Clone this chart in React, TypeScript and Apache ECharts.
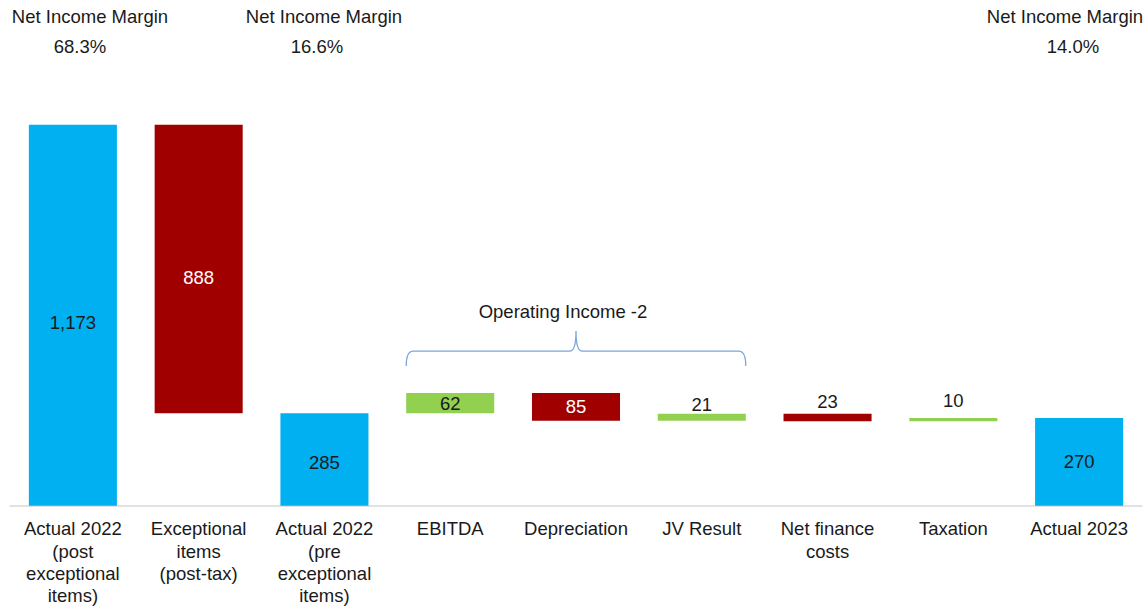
import React, { useEffect, useRef } from "react";
import * as echarts from "echarts";

const categories = [
  "Actual 2022\n(post\nexceptional\nitems)",
  "Exceptional\nitems\n(post-tax)",
  "Actual 2022\n(pre\nexceptional\nitems)",
  "EBITDA",
  "Depreciation",
  "JV Result",
  "Net finance\ncosts",
  "Taxation",
  "Actual 2023",
];
// signed change for deltas, total for totals
const values = [1173, -888, 285, 62, -85, 21, -23, 10, 270];
const kinds = ["total", "delta", "total", "delta", "delta", "delta", "delta", "delta", "total"];
const labelTexts = ["1,173", "888", "285", "62", "85", "21", "23", "10", "270"];
const labelOutside = [false, false, false, false, false, true, true, true, false];
const marginTitles = ["Net Income Margin", "Net Income Margin", "Net Income Margin"];
const marginValues = ["68.3%", "16.6%", "14.0%"];
const bracketText = "Operating Income -2";

const BLUE = "#00b0f0";
const RED = "#a00000";
const GREEN = "#92d050";
const FONT = "Liberation Sans";
const FS = 18.5;

export default function App() {
  const ref = useRef<HTMLDivElement>(null);
  useEffect(() => {
    if (!ref.current) return;
    const chart = echarts.init(ref.current, undefined, { renderer: "svg" });

    const bases: number[] = [];
    const heights: number[] = [];
    let cum = 0;
    values.forEach((v, i) => {
      if (kinds[i] === "total") {
        bases.push(0);
        heights.push(v);
        cum = v;
      } else {
        const next = cum + v;
        bases.push(Math.min(cum, next));
        heights.push(Math.abs(v));
        cum = next;
      }
    });

    const labelShift = [7, 9, 3, 0, 0, 3, 0, -5, 0];

    const barData = heights.map((h, i) => {
      const color = kinds[i] === "total" ? BLUE : values[i] < 0 ? RED : GREEN;
      return {
        value: h,
        itemStyle: { color },
        label: {
          show: true,
          formatter: labelTexts[i],
          position: labelOutside[i] ? "top" : "inside",
          offset: [0, labelShift[i]],
          color: color === RED && !labelOutside[i] ? "#ffffff" : "#1a1a1a",
          fontFamily: FONT,
          fontSize: FS,
          distance: 3,
        },
      };
    });

    const txt = (x: number, y: number, t: string) => ({
      type: "text",
      x,
      y,
      style: { text: t, fill: "#1a1a1a", font: `${FS}px ${FONT}`, align: "center", verticalAlign: "middle" },
    });

    chart.setOption({
      animation: false,
      grid: { left: 10, right: 5, top: 116, bottom: 97, containLabel: false },
      xAxis: {
        type: "category",
        data: categories,
        axisLine: { show: true, lineStyle: { color: "#d9d9d9", width: 1.5 } },
        axisTick: { show: false },
        axisLabel: {
          interval: 0,
          color: "#1a1a1a",
          fontFamily: FONT,
          fontSize: FS,
          lineHeight: 22.3,
          margin: 12,
        },
      },
      yAxis: {
        type: "value",
        min: 0,
        max: 1200,
        show: false,
        splitLine: { show: false },
      },
      series: [
        {
          type: "bar",
          stack: "w",
          data: bases,
          itemStyle: { color: "transparent" },
          barWidth: "70%",
          silent: true,
        },
        {
          type: "bar",
          stack: "w",
          data: barData,
          barWidth: "70%",
        },
        {
          type: "custom",
          data: [[3, 5, bases[3] + heights[3]]],
          renderItem: (params: any, api: any) => {
            const bw = api.size([1, 0])[0] * 0.7;
            const xl = api.coord([api.value(0), 0])[0] - bw / 2;
            const xr = api.coord([api.value(1), 0])[0] + bw / 2;
            const yTop = api.coord([0, api.value(2)])[1];
            const yb = yTop - 27;
            const yh = yTop - 42;
            const yp = yTop - 62;
            const xm = (xl + xr) / 2;
            const d = `M${xl} ${yb} Q${xl} ${yh} ${xl + 7} ${yh} L${xm - 6} ${yh} Q${xm} ${yh} ${xm} ${yp} Q${xm} ${yh} ${xm + 6} ${yh} L${xr - 7} ${yh} Q${xr} ${yh} ${xr} ${yb}`;
            return {
              type: "group",
              children: [
                {
                  type: "path",
                  shape: { pathData: d },
                  style: { fill: "none", stroke: "#7aa6dc", lineWidth: 1.3 },
                },
                {
                  type: "text",
                  x: xm - 13,
                  y: yTop - 82,
                  style: {
                    text: bracketText,
                    fill: "#1a1a1a",
                    font: `${FS}px ${FONT}`,
                    align: "center",
                    verticalAlign: "middle",
                  },
                },
              ],
            };
          },
          silent: true,
          z: 5,
        },
      ],
      graphic: [
        txt(90, 16, marginTitles[0]),
        txt(80, 46, marginValues[0]),
        txt(324, 16, marginTitles[1]),
        txt(317, 46, marginValues[1]),
        txt(1065, 16, marginTitles[2]),
        txt(1073, 46, marginValues[2]),
      ],
    });
    return () => chart.dispose();
  }, []);
  return (
    <div
      ref={ref}
      style={{ position: "fixed", left: 0, top: 0, width: 1147, height: 607, background: "#fff" }}
    />
  );
}
